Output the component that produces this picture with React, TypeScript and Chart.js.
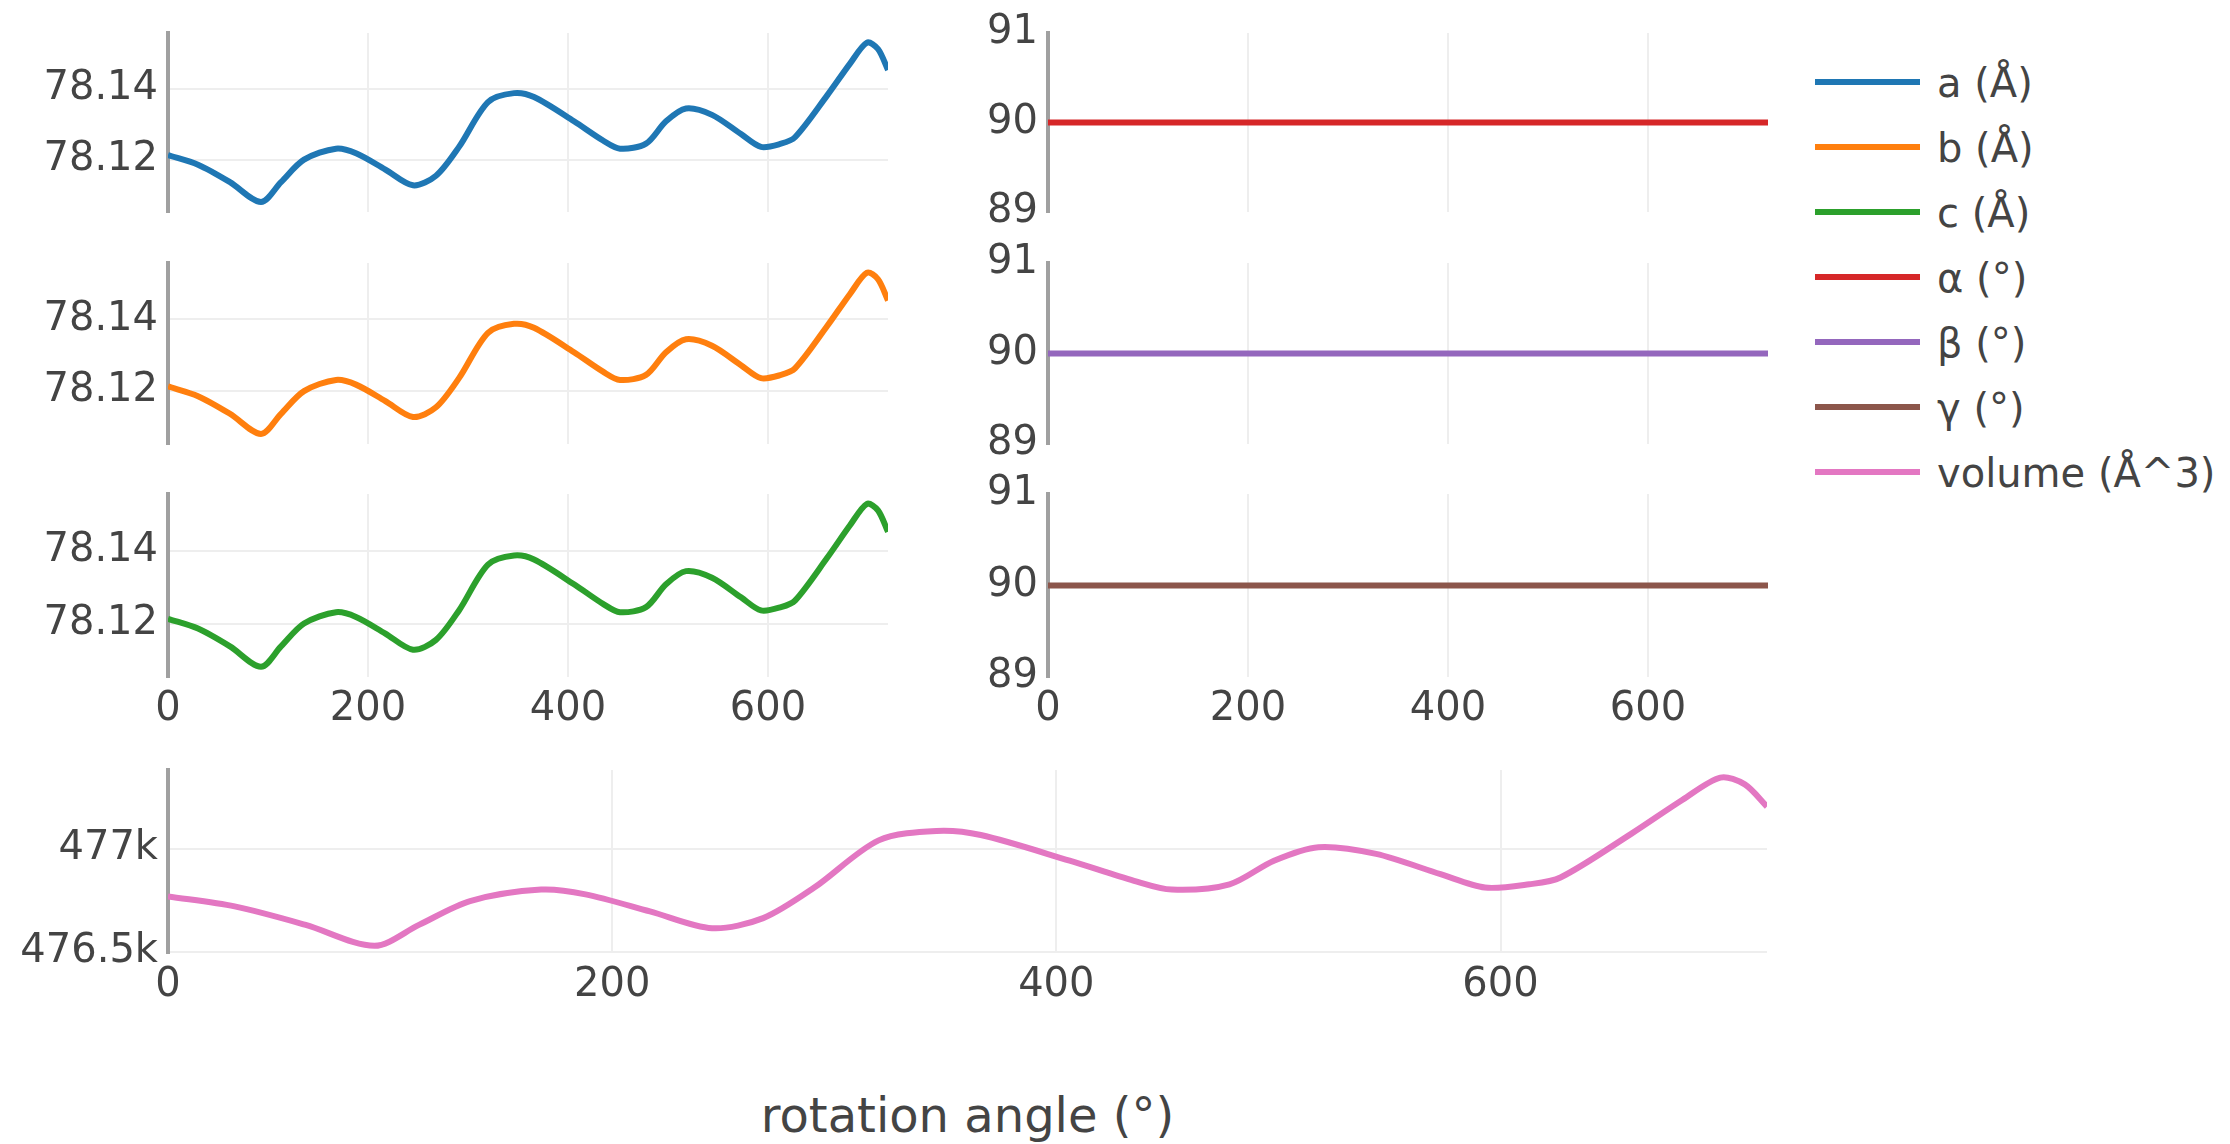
import React, { useEffect, useRef } from "react";
import { Chart, registerables } from "chart.js";

Chart.register(...registerables);

// ---- data ----
const ANGLES = [0, 30, 62, 93, 113, 136, 168, 188, 217, 245, 268, 291, 320, 346, 366, 406, 435, 452, 478, 498, 518, 544, 573, 593, 613, 627, 659, 682, 699, 710, 720];
const A_VALUES = [78.1213, 78.1186, 78.1137, 78.1081, 78.1137, 78.12, 78.1231, 78.1218, 78.1173, 78.1128, 78.1155, 78.1236, 78.1362, 78.1387, 78.1376, 78.1308, 78.1254, 78.1231, 78.1245, 78.1308, 78.1344, 78.1326, 78.1272, 78.1236, 78.1245, 78.1263, 78.138, 78.147, 78.1529, 78.1511, 78.1452];
const B_VALUES = [78.1213, 78.1186, 78.1137, 78.1081, 78.1137, 78.12, 78.1231, 78.1218, 78.1173, 78.1128, 78.1155, 78.1236, 78.1362, 78.1387, 78.1376, 78.1308, 78.1254, 78.1231, 78.1245, 78.1308, 78.1344, 78.1326, 78.1272, 78.1236, 78.1245, 78.1263, 78.138, 78.147, 78.1529, 78.1511, 78.1452];
const C_VALUES = [78.1213, 78.1186, 78.1137, 78.1081, 78.1137, 78.12, 78.1231, 78.1218, 78.1173, 78.1128, 78.1155, 78.1236, 78.1362, 78.1387, 78.1376, 78.1308, 78.1254, 78.1231, 78.1245, 78.1308, 78.1344, 78.1326, 78.1272, 78.1236, 78.1245, 78.1263, 78.138, 78.147, 78.1529, 78.1511, 78.1452];
const ANGLE_ENDS = [0, 720];
const ALPHA_VALUES = [90, 90];
const BETA_VALUES = [90, 90];
const GAMMA_VALUES = [90, 90];
const VOLUME_VALUES = [476769, 476720, 476630, 476528, 476630, 476746, 476802, 476779, 476696, 476614, 476663, 476812, 477042, 477088, 477068, 476943, 476845, 476802, 476828, 476943, 477009, 476976, 476877, 476812, 476828, 476861, 477075, 477240, 477348, 477315, 477207];

const X_TICKS = [0, 200, 400, 600];
const LEN_TICKS = [78.12, 78.14];
const ANG_TICKS = [89, 90, 91];
const VOL_TICKS = [476500, 477000];

const LEGEND_LABELS = ["a (Å)", "b (Å)", "c (Å)", "α (°)", "β (°)", "γ (°)", "volume (Å^3)"];
const COLORS = ["#1f77b4", "#ff7f0e", "#2ca02c", "#d62728", "#9467bd", "#8c564b", "#e377c2"];
const X_TITLE = "rotation angle (°)";

const FONT = "'DejaVu Sans', Verdana, sans-serif";
const TEXT_COLOR = "#444444";
const GRID = "#eeeeee";

type Spec = {
  left: number;
  top: number;
  right: number;
  bottom: number;
  xs: number[];
  ys: number[];
  color: string;
  yMin: number;
  yMax: number;
  yTicks: number[];
  yGrid: number[];
  fmt: (v: number) => string;
  xLabels: boolean;
};

const YW = 168;
const PAD_TOP = 40;
const PAD_RIGHT = 20;
const PAD_BOTTOM = 30;
const XH = 70;

function ChartBox({ spec }: { spec: Spec }) {
  const ref = useRef<HTMLCanvasElement | null>(null);
  const w = YW + (spec.right - spec.left) + PAD_RIGHT;
  const h = PAD_TOP + (spec.bottom - spec.top) + (spec.xLabels ? XH : PAD_BOTTOM);
  useEffect(() => {
    if (!ref.current) return;
    const chart = new Chart(ref.current, {
      type: "line",
      data: {
        datasets: [
          {
            data: spec.xs.map((x, i) => ({ x, y: spec.ys[i] })),
            borderColor: spec.color,
            backgroundColor: spec.color,
            borderWidth: 6,
            pointRadius: 0,
            tension: 0.3,
            fill: false,
          },
        ],
      },
      options: {
        responsive: false,
        animation: false,
        events: [],
        layout: {
          padding: { left: 0, top: PAD_TOP, right: PAD_RIGHT, bottom: spec.xLabels ? 0 : PAD_BOTTOM },
        },
        plugins: { legend: { display: false }, tooltip: { enabled: false } },
        scales: {
          x: {
            type: "linear",
            min: 0,
            max: 720,
            afterBuildTicks: (s: any) => {
              s.ticks = X_TICKS.map((v) => ({ value: v }));
            },
            afterFit: (s: any) => {
              s.height = spec.xLabels ? XH : 0;
            },
            grid: { color: GRID, lineWidth: 2, drawTicks: false },
            border: { display: false },
            ticks: {
              display: spec.xLabels,
              autoSkip: false,
              maxRotation: 0,
              padding: 9,
              color: TEXT_COLOR,
              font: { family: FONT, size: 40, lineHeight: 1.2 },
              callback: (v: any) => String(v),
            },
          },
          y: {
            type: "linear",
            min: spec.yMin,
            max: spec.yMax,
            afterBuildTicks: (s: any) => {
              s.ticks = spec.yTicks.map((v) => ({ value: v }));
            },
            afterFit: (s: any) => {
              s.width = YW;
            },
            grid: {
              drawTicks: false,
              lineWidth: 2,
              color: (ctx: any) =>
                ctx.tick && spec.yGrid.includes(ctx.tick.value) ? GRID : "rgba(0,0,0,0)",
            },
            border: { display: true, color: "#a0a0a0", width: 4 },
            ticks: {
              autoSkip: false,
              padding: 10,
              color: TEXT_COLOR,
              font: { family: FONT, size: 40, lineHeight: 1.2 },
              callback: (v: any) => spec.fmt(Number(v)),
            },
          },
        },
      } as any,
    });
    return () => chart.destroy();
  }, []);
  return (
    <canvas
      ref={ref}
      width={w}
      height={h}
      style={{
        position: "absolute",
        left: spec.left - YW,
        top: spec.top - PAD_TOP,
        width: w,
        height: h,
      }}
    />
  );
}

const fmtLen = (v: number) => v.toFixed(2);
const fmtAng = (v: number) => String(Math.round(v));
const fmtVol = (v: number) => `${v / 1000}k`;

const LEFT_ROWS = [
  { top: 33, bottom: 216 },
  { top: 263, bottom: 448 },
  { top: 494, bottom: 677 },
];

const SPECS: Spec[] = [
  { left: 168, right: 888, ...LEFT_ROWS[0], xs: ANGLES, ys: A_VALUES, color: COLORS[0], yMin: 78.1053, yMax: 78.1556, yTicks: LEN_TICKS, yGrid: LEN_TICKS, fmt: fmtLen, xLabels: false },
  { left: 168, right: 888, ...LEFT_ROWS[1], xs: ANGLES, ys: B_VALUES, color: COLORS[1], yMin: 78.1053, yMax: 78.1556, yTicks: LEN_TICKS, yGrid: LEN_TICKS, fmt: fmtLen, xLabels: false },
  { left: 168, right: 888, ...LEFT_ROWS[2], xs: ANGLES, ys: C_VALUES, color: COLORS[2], yMin: 78.1053, yMax: 78.1556, yTicks: LEN_TICKS, yGrid: LEN_TICKS, fmt: fmtLen, xLabels: true },
  { left: 1048, right: 1768, ...LEFT_ROWS[0], xs: ANGLE_ENDS, ys: ALPHA_VALUES, color: COLORS[3], yMin: 89, yMax: 91, yTicks: ANG_TICKS, yGrid: [90], fmt: fmtAng, xLabels: false },
  { left: 1048, right: 1768, ...LEFT_ROWS[1], xs: ANGLE_ENDS, ys: BETA_VALUES, color: COLORS[4], yMin: 89, yMax: 91, yTicks: ANG_TICKS, yGrid: [90], fmt: fmtAng, xLabels: false },
  { left: 1048, right: 1768, ...LEFT_ROWS[2], xs: ANGLE_ENDS, ys: GAMMA_VALUES, color: COLORS[5], yMin: 89, yMax: 91, yTicks: ANG_TICKS, yGrid: [90], fmt: fmtAng, xLabels: true },
  { left: 168, right: 1767, top: 770, bottom: 953, xs: ANGLES, ys: VOLUME_VALUES, color: COLORS[6], yMin: 476493, yMax: 477385, yTicks: VOL_TICKS, yGrid: VOL_TICKS, fmt: fmtVol, xLabels: true },
];

const LEGEND_Y = [82, 147, 212, 277, 342, 407, 472];

export default function App() {
  return (
    <div
      style={{
        position: "absolute",
        left: 0,
        top: 0,
        width: 2230,
        height: 1144,
        overflow: "hidden",
        background: "#ffffff",
        fontFamily: FONT,
      }}
    >
      {SPECS.map((s, i) => (
        <ChartBox key={i} spec={s} />
      ))}
      {LEGEND_LABELS.map((label, i) => (
        <React.Fragment key={label}>
          <div
            style={{
              position: "absolute",
              left: 1815,
              top: LEGEND_Y[i] - 3,
              width: 105,
              height: 6,
              background: COLORS[i],
            }}
          />
          <div
            style={{
              position: "absolute",
              left: 1937,
              top: LEGEND_Y[i] - 19,
              fontSize: 40,
              lineHeight: "40px",
              color: TEXT_COLOR,
              whiteSpace: "nowrap",
            }}
          >
            {label}
          </div>
        </React.Fragment>
      ))}
      <div
        style={{
          position: "absolute",
          left: 0,
          width: 1935,
          top: 1091,
          textAlign: "center",
          fontSize: 48,
          lineHeight: "48px",
          color: TEXT_COLOR,
          whiteSpace: "nowrap",
        }}
      >
        {X_TITLE}
      </div>
    </div>
  );
}
